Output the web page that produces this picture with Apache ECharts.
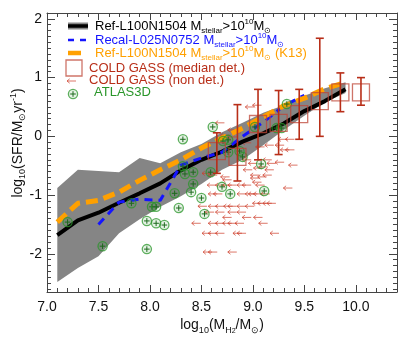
<!DOCTYPE html>
<html><head><meta charset="utf-8">
<script src="https://cdn.jsdelivr.net/npm/echarts@6.0.0/dist/echarts.min.js"></script>
<style>html,body{margin:0;padding:0;background:#fff;}#chart{width:415px;height:341px;}</style>
</head><body><div id="chart"></div>
<script>
// ---- data ----
const refX = [7.1,7.3,7.5,7.7,7.9,8.1,8.3,8.5,8.7,8.9,9.1,9.3,9.5,9.7,9.9];
const refMedian = [-1.68,-1.43,-1.30,-1.13,-0.97,-0.80,-0.58,-0.40,-0.26,-0.09,0.05,0.22,0.43,0.60,0.80];
const refLow = [-2.48,-2.24,-2.04,-1.65,-1.41,-1.20,-1.02,-0.81,-0.57,-0.40,-0.15,0.11,0.35,0.58,0.74];
const refHigh = [-0.88,-0.57,-0.59,-0.61,-0.37,-0.46,-0.27,-0.13,0.07,0.23,0.40,0.53,0.69,0.82,0.92];
const k13Median = [-1.46,-1.14,-1.09,-0.95,-0.75,-0.57,-0.40,-0.20,-0.03,0.14,0.33,0.52,0.65,0.81,0.92];
const recalX = [7.5,7.7,7.9,8.1,8.3,8.5,8.7,8.9,9.1,9.3,9.5];
const recalMedian = [-1.50,-1.12,-1.07,-1.09,-0.49,-0.37,-0.27,0.00,0.24,0.52,0.70];
const cgX = [8.65,8.85,9.05,9.25,9.45,9.65,9.85,10.05];
const cgMedian = [-0.25,-0.35,0.21,0.23,0.38,0.60,0.75,0.75];
const cgLow = [-0.63,-0.76,-0.40,-0.31,-0.05,0.00,0.42,0.53];
const cgHigh = [0.06,0.54,0.80,0.78,0.80,1.67,1.08,1.00];
const ndX = [8.97,8.68,8.80,8.73,8.80,8.84,9.29,9.36,8.94,9.07,9.16,9.26,9.31,9.36,9.39,8.94,9.00,9.14,9.18,9.26,9.05,9.10,9.16,8.55,8.61,8.95,9.02,9.09,9.14,8.73,8.75,9.02,9.04,9.07,8.60,8.68,8.75,8.80,8.89,8.94,9.34,8.61,8.66,8.89,8.97,9.00,9.05,9.12,8.51,8.61,8.68,8.76,8.80,8.89,8.97,9.04,9.09,9.14,9.18,8.58,8.68,8.80,8.89,8.75,8.94,9.05,8.61,8.68,8.75,8.80,8.87,9.10,8.55,8.61,8.68,8.85,8.89,9.21,8.56,8.80,8.45,8.61,9.04,9.16];
const ndY = [0.50,0.23,0.11,0.02,-0.01,0.06,-0.05,-0.05,-0.11,-0.18,-0.15,-0.15,-0.23,-0.23,-0.49,-0.40,-0.46,-0.40,-0.46,-0.44,-0.54,-0.52,-0.57,-0.63,-0.66,-0.57,-0.66,-0.69,-0.66,-0.69,-0.74,-0.71,-0.78,-0.83,-0.83,-0.83,-0.83,-0.83,-0.83,-0.83,-0.88,-0.98,-0.98,-0.98,-0.98,-0.98,-0.98,-0.98,-1.19,-1.19,-1.19,-1.19,-1.19,-1.19,-1.19,-1.14,-1.14,-1.14,-1.14,-1.29,-1.29,-1.29,-1.29,-1.38,-1.38,-1.38,-1.48,-1.48,-1.48,-1.48,-1.48,-1.48,-1.65,-1.65,-1.65,-1.65,-1.65,-1.65,-1.97,-1.97,-1.48,-1.97,0.53,0.36];
const atlasX = [7.20,7.54,7.82,7.97,7.97,8.02,8.06,8.06,8.14,8.24,8.28,8.32,8.32,8.34,8.40,8.42,8.42,8.50,8.53,8.59,8.61,8.70,8.71,8.76,8.76,8.78,8.87,8.90,9.02,9.08,9.11,9.23,9.28,9.33];
const atlasY = [-1.46,-1.87,-1.14,-1.44,-1.92,-1.20,-1.20,-1.48,-1.51,-0.97,-1.22,-0.05,-0.51,-0.64,-0.95,-0.61,-0.81,-1.05,-1.32,-0.61,0.16,-0.86,-0.08,-0.06,-0.27,-0.98,-0.25,-0.35,0.16,-0.47,-0.93,0.14,0.14,0.55];
const xTickValues = [7.0,7.5,8.0,8.5,9.0,9.5,10.0];
const yTickValues = [-2,-1,0,1,2];
const X_MIN = 7.0, X_MAX = 10.4, Y_MIN = -2.65, Y_MAX = 2.1;

// ---- styles ----
const FONT = "'Liberation Sans', Arial, Helvetica, sans-serif";
const AX = '#444';
const BAND = '#858585';
const BLUE = '#1414ff';
const ORANGE = '#ffa000';
const RED = '#b82e18';
const SQ = 'rgba(190,70,55,0.75)';
const ARROW = 'rgba(205,60,40,0.7)';
const GREEN = '#2a962a';

const xMinor = []; for (let v = 71; v <= 104; v++) if (v % 5) xMinor.push(v / 10);
const yMinor = []; for (let v = -26; v <= 21; v++) if (v % 10) yMinor.push(v / 10);

function xAxisDef(pos, vals, len, showLabel, showLine) {
  return {
    type: 'value', position: pos, min: X_MIN, max: X_MAX,
    axisLine: { show: showLine, onZero: false, lineStyle: { color: AX, width: 1 } },
    axisTick: { show: true, inside: true, length: len, customValues: vals, lineStyle: { color: AX, width: 1 } },
    axisLabel: { show: showLabel, customValues: vals, formatter: v => v.toFixed(1), margin: 8,
      fontSize: 14, color: '#111', fontFamily: FONT },
    splitLine: { show: false }
  };
}
function yAxisDef(pos, vals, len, showLabel, showLine) {
  return {
    type: 'value', position: pos, min: Y_MIN, max: Y_MAX,
    axisLine: { show: showLine, onZero: false, lineStyle: { color: AX, width: 1 } },
    axisTick: { show: true, inside: true, length: len, customValues: vals, lineStyle: { color: AX, width: 1 } },
    axisLabel: { show: showLabel, customValues: vals, formatter: v => String(Math.round(v)), margin: 5,
      fontSize: 14, color: '#111', fontFamily: FONT },
    splitLine: { show: false }
  };
}

function rich(color) {
  return {
    m: { fontSize: 13, lineHeight: 17, fill: color, fontFamily: FONT },
    s: { fontSize: 8, lineHeight: 7, verticalAlign: 'bottom', fill: color, fontFamily: FONT },
    p: { fontSize: 8, lineHeight: 7, verticalAlign: 'top', fill: color, fontFamily: FONT }
  };
}
function legendText(x, y, text, color) {
  return { type: 'text', x: x, y: y, silent: true, z: 100,
    style: { text: text, rich: rich(color), fill: color, align: 'left', verticalAlign: 'middle', fontFamily: FONT, fontSize: 13 } };
}

const chart = echarts.init(document.getElementById('chart'), null, { renderer: 'canvas' });
const option = {
  animation: false,
  backgroundColor: '#fff',
  textStyle: { fontFamily: FONT },
  grid: { left: 47, top: 13, width: 350, height: 279, containLabel: false },
  xAxis: [
    xAxisDef('bottom', xTickValues, 7, true, true),
    xAxisDef('bottom', xMinor, 4, false, false),
    xAxisDef('top', xTickValues, 7, false, true),
    xAxisDef('top', xMinor, 4, false, false)
  ],
  yAxis: [
    yAxisDef('left', yTickValues, 8, true, true),
    yAxisDef('left', yMinor, 4, false, false),
    yAxisDef('right', yTickValues, 8, false, true),
    yAxisDef('right', yMinor, 4, false, false)
  ],
  series: [
    { // gray band
      type: 'custom', silent: true, z: 1,
      data: refX.map((x, i) => [x, refLow[i], refHigh[i]]),
      encode: { x: 0, y: [1, 2] },
      renderItem: (params, api) => {
        if (params.dataIndex !== 0) return null;
        const pts = [];
        for (let i = 0; i < refX.length; i++) pts.push(api.coord([refX[i], refHigh[i]]));
        for (let i = refX.length - 1; i >= 0; i--) pts.push(api.coord([refX[i], refLow[i]]));
        return { type: 'polygon', shape: { points: pts }, style: { fill: BAND } };
      }
    },
    { // non detections
      type: 'custom', silent: true, z: 2,
      data: ndX.map((x, i) => [x, ndY[i]]),
      encode: { x: 0, y: 1 },
      renderItem: (params, api) => {
        const c = api.coord([api.value(0), api.value(1)]);
        const x = c[0], y = c[1];
        return { type: 'group', children: [
          { type: 'line', shape: { x1: x - 4.5, y1: y, x2: x + 4.5, y2: y }, style: { stroke: ARROW, lineWidth: 1 } },
          { type: 'polyline', shape: { points: [[x - 1.8, y - 2.2], [x - 4.5, y], [x - 1.8, y + 2.2]] }, style: { stroke: ARROW, fill: null, lineWidth: 1 } }
        ] };
      }
    },
    { type: 'line', name: 'Ref', z: 3, data: refX.map((x, i) => [x, refMedian[i]]), showSymbol: false, symbol: 'none',
      lineStyle: { color: '#000', width: 4 } },
    { type: 'line', name: 'Recal', z: 4, data: recalX.map((x, i) => [x, recalMedian[i]]), showSymbol: false, symbol: 'none',
      lineStyle: { color: BLUE, width: 3, type: [8, 6] } },
    { type: 'line', name: 'K13', z: 4, data: refX.map((x, i) => [x, k13Median[i]]), showSymbol: false, symbol: 'none',
      lineStyle: { color: ORANGE, width: 5, type: [12, 6] } },
    { // ATLAS3D
      type: 'custom', silent: true, z: 5,
      data: atlasX.map((x, i) => [x, atlasY[i]]),
      encode: { x: 0, y: 1 },
      renderItem: (params, api) => {
        const c = api.coord([api.value(0), api.value(1)]);
        const x = c[0], y = c[1];
        return { type: 'group', children: [
          { type: 'circle', shape: { cx: x, cy: y, r: 4.6 }, style: { stroke: 'rgba(42,150,42,0.75)', fill: 'rgba(42,150,42,0.12)', lineWidth: 1.3 } },
          { type: 'line', shape: { x1: x - 2.8, y1: y, x2: x + 2.8, y2: y }, style: { stroke: '#1d6a1d', lineWidth: 1 } },
          { type: 'line', shape: { x1: x, y1: y - 2.8, x2: x, y2: y + 2.8 }, style: { stroke: '#1d6a1d', lineWidth: 1 } }
        ] };
      }
    },
    { // COLD GASS medians
      type: 'custom', silent: true, z: 6,
      data: cgX.map((x, i) => [x, cgMedian[i], cgLow[i], cgHigh[i]]),
      encode: { x: 0, y: [1, 2, 3] },
      renderItem: (params, api) => {
        const x = api.value(0);
        const c = api.coord([x, api.value(1)]);
        const l = api.coord([x, api.value(2)]);
        const h = api.coord([x, api.value(3)]);
        return { type: 'group', children: [
          { type: 'rect', shape: { x: c[0] - 8.5, y: c[1] - 8.5, width: 17, height: 17 }, style: { stroke: SQ, fill: null, lineWidth: 1.3 } },
          { type: 'line', shape: { x1: l[0], y1: l[1], x2: h[0], y2: h[1] }, style: { stroke: RED, lineWidth: 1.6 } },
          { type: 'line', shape: { x1: l[0] - 4, y1: l[1], x2: l[0] + 4, y2: l[1] }, style: { stroke: RED, lineWidth: 1.6 } },
          { type: 'line', shape: { x1: h[0] - 4, y1: h[1], x2: h[0] + 4, y2: h[1] }, style: { stroke: RED, lineWidth: 1.6 } }
        ] };
      }
    }
  ],
  graphic: [
    // legend icons
    { type: 'line', silent: true, z: 100, shape: { x1: 68, y1: 26, x2: 88, y2: 26 }, style: { stroke: BAND, lineWidth: 7 } },
    { type: 'line', silent: true, z: 101, shape: { x1: 68, y1: 26, x2: 88, y2: 26 }, style: { stroke: '#000', lineWidth: 3.5 } },
    { type: 'line', silent: true, z: 100, shape: { x1: 68, y1: 40, x2: 90, y2: 40 }, style: { stroke: BLUE, lineWidth: 2.5, lineDash: [6, 6] } },
    { type: 'line', silent: true, z: 100, shape: { x1: 68, y1: 53, x2: 81, y2: 53 }, style: { stroke: ORANGE, lineWidth: 4.5 } },
    { type: 'rect', silent: true, z: 100, shape: { x: 66, y: 60, width: 16, height: 16 }, style: { stroke: SQ, fill: null, lineWidth: 1.3 } },
    { type: 'line', silent: true, z: 100, shape: { x1: 67, y1: 81, x2: 76, y2: 81 }, style: { stroke: ARROW, lineWidth: 1 } },
    { type: 'polyline', silent: true, z: 100, shape: { points: [[69.7, 78.8], [67, 81], [69.7, 83.2]] }, style: { stroke: ARROW, fill: null, lineWidth: 1 } },
    { type: 'circle', silent: true, z: 100, shape: { cx: 73, cy: 94, r: 4.6 }, style: { stroke: 'rgba(42,150,42,0.75)', fill: 'rgba(42,150,42,0.12)', lineWidth: 1.3 } },
    { type: 'line', silent: true, z: 100, shape: { x1: 70.2, y1: 94, x2: 75.8, y2: 94 }, style: { stroke: '#1d6a1d', lineWidth: 1 } },
    { type: 'line', silent: true, z: 100, shape: { x1: 73, y1: 91.2, x2: 73, y2: 96.8 }, style: { stroke: '#1d6a1d', lineWidth: 1 } },
    // legend texts
    legendText(95, 26, '{m|Ref-L100N1504 M}{s|stellar}{m|>10}{p|10}{m|M}{s|⊙}', '#000'),
    legendText(95, 40, '{m|Recal-L025N0752 M}{s|stellar}{m|>10}{p|10}{m|M}{s|⊙}', BLUE),
    legendText(95, 53, '{m|Ref-L100N1504 M}{s|stellar}{m|>10}{p|10}{m|M}{s|⊙}{m| (K13)}', ORANGE),
    legendText(89, 68, '{m|COLD GASS (median det.)}', RED),
    legendText(89, 80, '{m|COLD GASS (non det.)}', RED),
    legendText(94, 92, '{m|ATLAS3D}', GREEN),
    // axis titles
    { type: 'text', silent: true, x: 222, y: 325,
      style: { text: '{m|log}{s|10}{m|(M}{h|H}{t|2}{m|/M}{s|⊙}{m|)}', align: 'center', verticalAlign: 'middle', fill: '#111',
        rich: {
          m: { fontSize: 14, lineHeight: 20, fill: '#111', fontFamily: FONT },
          s: { fontSize: 9, lineHeight: 8, verticalAlign: 'bottom', fill: '#111', fontFamily: FONT },
          h: { fontSize: 9, lineHeight: 10, verticalAlign: 'bottom', fill: '#111', fontFamily: FONT },
          t: { fontSize: 7, lineHeight: 3, verticalAlign: 'bottom', fill: '#111', fontFamily: FONT }
        } } },
    { type: 'text', silent: true, x: 18, y: 143, rotation: Math.PI / 2,
      style: { text: '{m|log}{s|10}{m|(SFR/M}{s|⊙}{m|yr}{p|-1}{m|)}', align: 'center', verticalAlign: 'middle', fill: '#111',
        rich: {
          m: { fontSize: 14, lineHeight: 18, fill: '#111', fontFamily: FONT },
          s: { fontSize: 9, lineHeight: 8, verticalAlign: 'bottom', fill: '#111', fontFamily: FONT },
          p: { fontSize: 9, lineHeight: 8, verticalAlign: 'top', fill: '#111', fontFamily: FONT }
        } } }
  ]
};
chart.setOption(option);
</script></body></html>
